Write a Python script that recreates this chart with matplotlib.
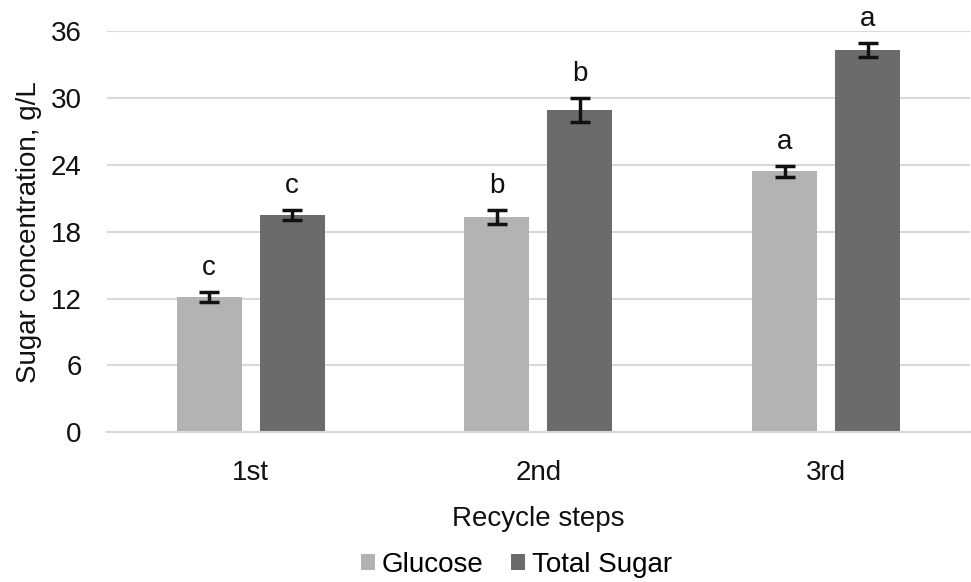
import matplotlib
matplotlib.use("Agg")
import matplotlib.pyplot as plt
import numpy as np

plt.rcParams['font.family'] = ['Liberation Sans', 'DejaVu Sans']

# recycle steps and sugar concentrations (g/L)
steps = ['1st', '2nd', '3rd']
glucose = [12.1, 19.3, 23.4]
glucose_err = [0.45, 0.6, 0.5]
total_sugar = [19.5, 28.9, 34.3]
total_err = [0.45, 1.1, 0.6]
glucose_letters = ['c', 'b', 'a']
total_letters = ['c', 'b', 'a']

fs = 20

fig = plt.figure(figsize=(9.71, 5.82), dpi=100)
ax = fig.add_axes([0.110, 0.257, 0.889, 0.690])

x = np.arange(len(steps))
w = 0.226
off = 0.144

b1 = ax.bar(x - off, glucose, w, color='#b3b3b3', label='Glucose', zorder=2)
b2 = ax.bar(x + off, total_sugar, w, color='#6b6b6b', label='Total Sugar', zorder=2)
ax.errorbar(x - off, glucose, yerr=glucose_err, fmt='none', ecolor='#111111',
            elinewidth=2.5, capsize=7, capthick=2.5, zorder=3)
ax.errorbar(x + off, total_sugar, yerr=total_err, fmt='none', ecolor='#111111',
            elinewidth=2.5, capsize=7, capthick=2.5, zorder=3)

# significance letters above the error bars
for xi, v, e, t in zip(x - off, glucose, glucose_err, glucose_letters):
    ax.annotate(t, (xi, v + e), xytext=(0, 8), textcoords='offset points',
                ha='center', va='bottom', fontsize=fs, color='#111111')
for xi, v, e, t in zip(x + off, total_sugar, total_err, total_letters):
    ax.annotate(t, (xi, v + e), xytext=(0, 8), textcoords='offset points',
                ha='center', va='bottom', fontsize=fs, color='#111111')

ax.set_xlim(-0.5, 2.5)
ax.set_ylim(0, 36)
ax.set_yticks(np.arange(0, 37, 6))
ax.set_xticks(x)
ax.set_xticklabels(steps)
ax.yaxis.grid(True, color='#d9d9d9', linewidth=1.5, zorder=0)
ax.set_axisbelow(True)
for s in ['top', 'right', 'left']:
    ax.spines[s].set_visible(False)
ax.spines['bottom'].set_color('#d9d9d9')
ax.spines['bottom'].set_linewidth(1.5)
ax.tick_params(axis='both', length=0, labelsize=fs, colors='#111111')
ax.tick_params(axis='y', pad=18)
ax.tick_params(axis='x', pad=20)

ax.set_ylabel('Sugar concentration, g/L', fontsize=fs, color='#111111', labelpad=6)
ax.set_xlabel('Recycle steps', fontsize=fs, color='#111111', labelpad=14)

fig.legend(handles=[b1, b2], loc='lower center', bbox_to_anchor=(0.532, -0.036),
           ncol=2, frameon=False, fontsize=fs, handlelength=0.5, handleheight=0.5,
           handletextpad=0.25, columnspacing=1.0)

fig.savefig('out.png', dpi=100)
